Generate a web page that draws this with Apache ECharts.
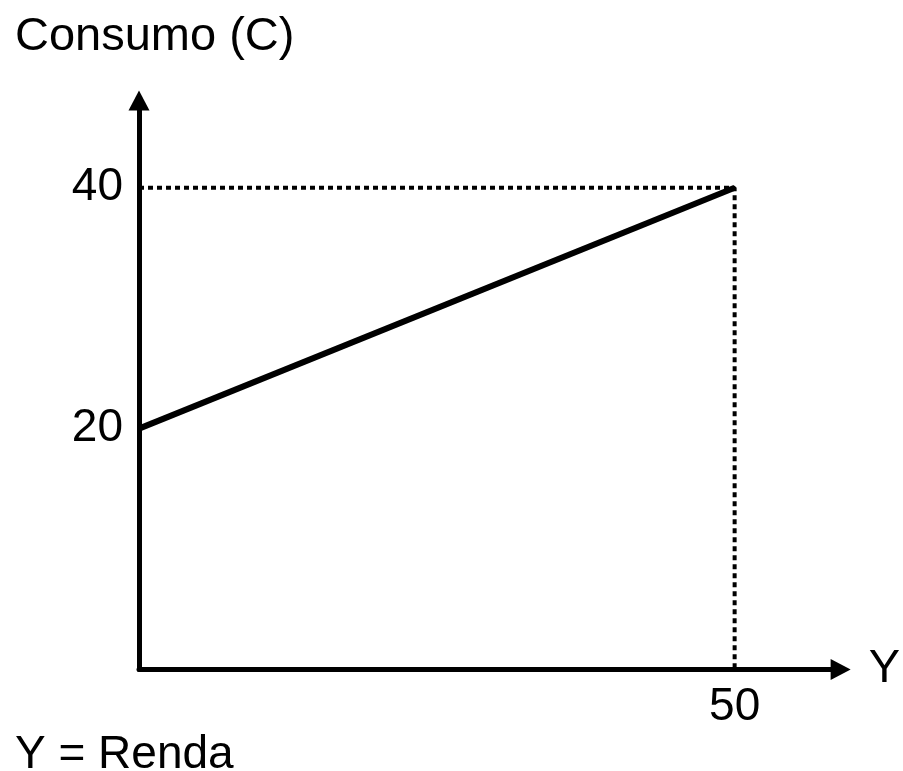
<!DOCTYPE html>
<html>
<head>
<meta charset="utf-8">
<script src="https://cdn.jsdelivr.net/npm/echarts@6/dist/echarts.min.js"></script>
<style>
html,body{margin:0;padding:0;background:#fff;}
#chart{width:903px;height:771px;}
</style>
</head>
<body>
<div id="chart"></div>
<script>
// Data
var consumoLine = [[0, 20], [50, 40]];      // C as a function of Y
var guideLine = [[0, 40], [50, 40], [50, 0]]; // dotted reference lines
var yTickLabels = [20, 40];
var xTickLabels = [50];
var yAxisTitle = 'Consumo (C)';
var xAxisName = 'Y';
var footNote = 'Y = Renda';

var FONT = '"Liberation Sans", Arial, sans-serif';
var chart = echarts.init(document.getElementById('chart'));
chart.setOption({
  backgroundColor: '#ffffff',
  animation: false,
  title: [
    {text: yAxisTitle, left: 10, top: 9,
     textStyle: {fontSize: 47, fontWeight: 'normal', color: '#000', fontFamily: FONT}},
    {text: footNote, left: 10, top: 727,
     textStyle: {fontSize: 46, fontWeight: 'normal', color: '#000', fontFamily: FONT}}
  ],
  grid: {left: 139, right: 61, top: 100.5, bottom: 101.5, containLabel: false},
  xAxis: {
    type: 'value', min: 0, max: 58.9, interval: 50,
    name: xAxisName, nameLocation: 'end', nameGap: 28,
    nameTextStyle: {fontSize: 47, color: '#000', fontFamily: FONT, padding: [0, 0, 4, 0]},
    axisLine: {show: true, onZero: false, symbol: ['none', 'triangle'], symbolSize: [21, 20],
      lineStyle: {color: '#000', width: 5}},
    axisTick: {show: false},
    splitLine: {show: false},
    axisLabel: {show: true, margin: 15, fontSize: 46, color: '#000', fontFamily: FONT,
      showMaxLabel: false,
      formatter: function (v) { return xTickLabels.indexOf(v) >= 0 ? String(v) : ''; }}
  },
  yAxis: {
    type: 'value', min: 0, max: 47.25, interval: 20,
    axisLine: {show: true, onZero: false, symbol: ['none', 'triangle'], symbolSize: [21, 20],
      lineStyle: {color: '#000', width: 5}},
    axisTick: {show: false},
    splitLine: {show: false},
    axisLabel: {show: true, margin: 16, fontSize: 46, color: '#000', fontFamily: FONT,
      showMaxLabel: false, padding: [6, 0, 0, 0],
      formatter: function (v) { return yTickLabels.indexOf(v) >= 0 ? String(v) : ''; }}
  },
  series: [
    {type: 'line', data: guideLine, symbol: 'none', z: 2,
     lineStyle: {color: '#000', width: 4, type: [5, 4]}},
    {type: 'line', data: consumoLine, symbol: 'none', z: 3,
     lineStyle: {color: '#000', width: 6}}
  ]
});
</script>
</body>
</html>
